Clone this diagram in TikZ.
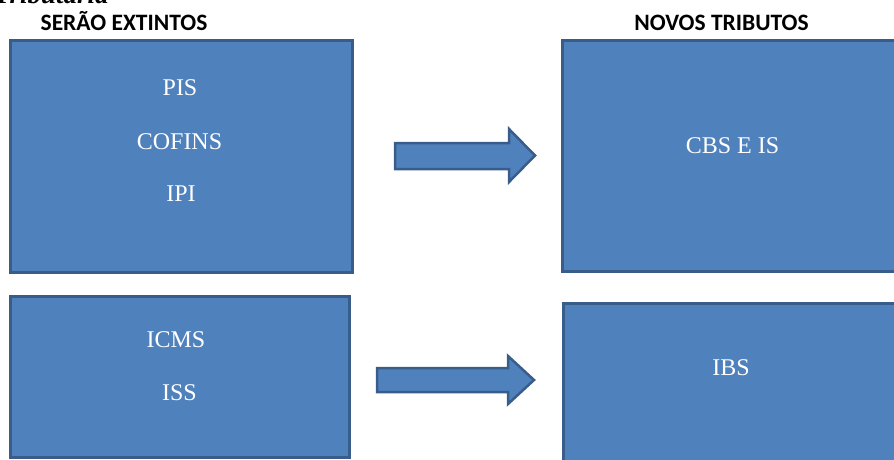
\documentclass[tikz,border=0pt]{standalone}
\usepackage{fontspec}
\setmainfont{Liberation Serif}
\newfontfamily\titlefont{Carlito}
\definecolor{boxblue}{HTML}{4F81BD}
\definecolor{boxedge}{HTML}{385D8A}
\tikzset{
  bluebox/.style={draw=boxedge, fill=boxblue, line width=3pt, rectangle, inner sep=0pt},
  inlabel/.style={text=white, font=\fontsize{24}{28}\selectfont, anchor=base, inner sep=0pt},
  headlabel/.style={text=black, font=\titlefont\bfseries\fontsize{23.5}{27}\selectfont, anchor=base, inner sep=0pt},
  blockarrow/.style={draw=boxedge, fill=boxblue, line width=2.5pt, line join=miter}
}
\begin{document}
\begin{tikzpicture}[x=1pt,y=-1pt]
\useasboundingbox (0,0) rectangle (894,459);
\begin{scope}
\clip (0,0) rectangle (894,459);
% cut-off heading above
\node[anchor=base west, inner sep=0pt, font=\bfseries\itshape\fontsize{27}{30}\selectfont] (cut) at (-6,3) {Tributária};
% boxes
\node[bluebox, minimum width=342pt, minimum height=232pt] (b1) at (181,156) {};
\node[bluebox, minimum width=340pt, minimum height=231pt] (b2) at (732,155.5) {};
\node[bluebox, minimum width=339pt, minimum height=161pt] (b3) at (179.5,376.5) {};
\node[bluebox, minimum width=340pt, minimum height=240pt] (b4) at (733,423) {};
% arrows
\draw[blockarrow] (395,143) -- (509,143) -- (509,129) -- (535,155.5) -- (509,182) -- (509,169) -- (395,169) -- cycle;
\draw[blockarrow] (377,368) -- (508,368) -- (508,356) -- (534,380) -- (508,404) -- (508,392) -- (377,392) -- cycle;
\end{scope}
% titles
\node[headlabel] (t1) at (124,30) {SERÃO EXTINTOS};
\node[headlabel] (t2) at (721.5,30) {NOVOS TRIBUTOS};
% inner labels
\node[inlabel] (pis) at (180,95) {PIS};
\node[inlabel] (cofins) at (179.5,149) {COFINS};
\node[inlabel] (ipi) at (181,201) {IPI};
\node[inlabel] (cbs) at (732.5,153) {CBS E IS};
\node[inlabel] (icms) at (176,347) {ICMS};
\node[inlabel] (iss) at (179.5,400) {ISS};
\node[inlabel] (ibs) at (731,375) {IBS};
\end{tikzpicture}
\end{document}
